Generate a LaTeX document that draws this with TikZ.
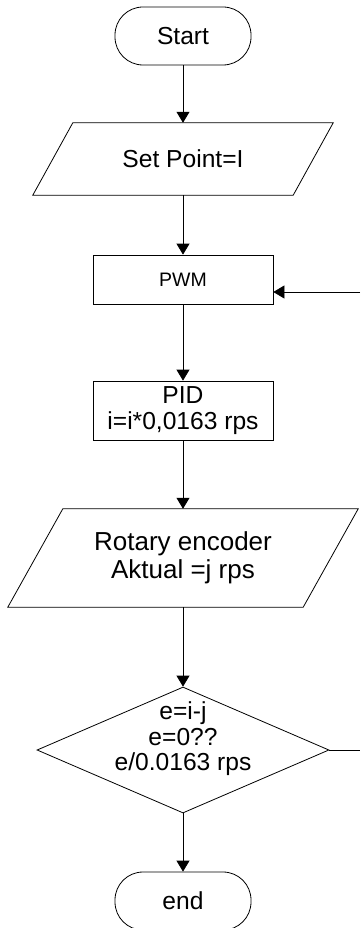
\documentclass[tikz,border=0pt]{standalone}
\usepackage{fontspec}
\setmainfont{Liberation Sans}
\usetikzlibrary{arrows.meta,shapes.geometric}

\begin{document}
\begin{tikzpicture}[
  x=1pt, y=-1pt,
  font=\fontsize{24.6}{25.5}\selectfont,
  base/.style={draw, line width=0.8pt, align=center, inner sep=0pt},
  term/.style={base, rounded corners=28pt, minimum width=136pt, minimum height=58pt},
  io/.style={align=center, inner sep=0pt},
  proc/.style={base, rectangle, minimum width=180pt},
  dec/.style={base, diamond, minimum width=292pt, minimum height=126pt},
  arr/.style={-{Triangle[width=13pt,length=11pt]}, line width=0.8pt},
  ln/.style={line width=0.8pt}
]
\useasboundingbox (0,0) rectangle (360,928);

\node[term] (start) at (183,36) {Start};
\node[io, minimum width=260pt, minimum height=72pt] (setp) at (183,159) {Set Point=I};
\node[proc, minimum height=49pt, font=\fontsize{19.5}{21}\selectfont] (pwm) at (183,279.5) {PWM};
\node[proc, minimum height=59pt] (pid) at (183,410.5) {PID\\i=i*0,0163 rps};
\node[io, minimum width=295pt, minimum height=98pt, font=\fontsize{26}{28}\selectfont] (enc) at (183,558) {Rotary encoder\\Aktual =j rps};
\node[dec] (chk) at (183,750) {};
\node[align=center] (chktxt) at (183,739) {e=i-j\\e=0??\\e/0.0163 rps};
\node[term] (stop) at (183,901) {end};

\draw[ln] ([xshift=20pt]setp.north west) -- ([xshift=20pt]setp.north east)
  -- ([xshift=-20pt]setp.south east) -- ([xshift=-20pt]setp.south west) -- cycle;
\draw[ln] ([xshift=27.5pt]enc.north west) -- ([xshift=27.5pt]enc.north east)
  -- ([xshift=-27.5pt]enc.south east) -- ([xshift=-27.5pt]enc.south west) -- cycle;

\coordinate (fbout) at (360,750);
\coordinate (fbin) at (360,292);

\draw[arr] (start) -- (setp);
\draw[arr] (setp) -- (pwm);
\draw[arr] (pwm) -- (pid);
\draw[arr] (pid) -- (enc);
\draw[arr] (enc) -- (chk);
\draw[arr] (chk) -- (stop);
\draw[ln] (chk.east) -- (fbout);
\draw[arr] (fbin) -- (fbin -| pwm.east);
\end{tikzpicture}
\end{document}
